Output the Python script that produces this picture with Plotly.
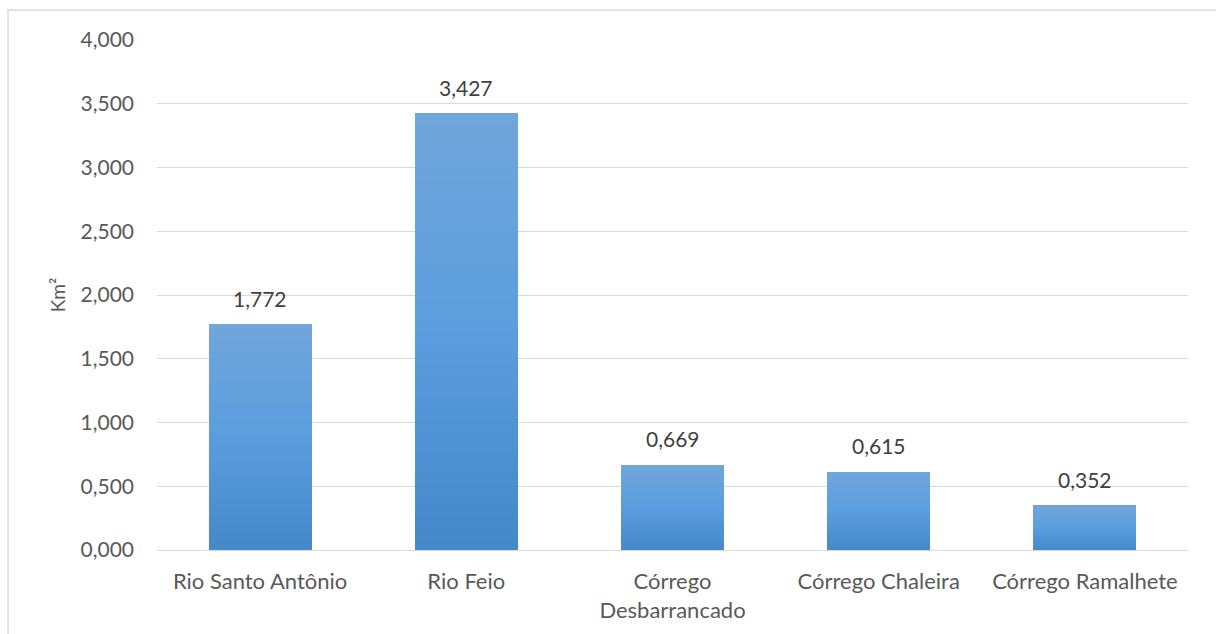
import plotly.graph_objects as go

# Área das sub-bacias (km²)
categorias = ["Rio Santo Antônio", "Rio Feio", "Córrego<br>Desbarrancado",
              "Córrego Chaleira", "Córrego Ramalhete"]
areas = [1.772, 3.427, 0.669, 0.615, 0.352]
ticks_y = [0, 0.5, 1.0, 1.5, 2.0, 2.5, 3.0, 3.5, 4.0]

# Degradê vertical das barras: escuro na base, claro no topo
N_FAIXAS = 40
cor_base = (0x44, 0x88, 0xC9)
cor_meio = (0x5B, 0x9D, 0xDD)
cor_topo = (0x71, 0xA6, 0xDB)

FONTE = "Lato, 'Open Sans', sans-serif"


def mistura(a, b, t):
    return tuple(round(a[i] + (b[i] - a[i]) * t) for i in range(3))


def cor_faixa(k):
    t = (k + 0.5) / N_FAIXAS
    if t < 0.5:
        c = mistura(cor_base, cor_meio, t / 0.5)
    else:
        c = mistura(cor_meio, cor_topo, (t - 0.5) / 0.5)
    return "rgb(%d,%d,%d)" % c


fig = go.Figure()
for k in range(N_FAIXAS):
    fig.add_trace(go.Bar(
        x=categorias,
        y=[v / N_FAIXAS for v in areas],
        marker=dict(color=cor_faixa(k), line=dict(width=0)),
        width=0.5,
        showlegend=False,
        hoverinfo="skip",
    ))

# Rótulos de valor acima das barras
rotulos = [
    dict(x=c, y=v, text=f"{v:.3f}".replace(".", ","), showarrow=False,
         yshift=26, font=dict(family=FONTE, size=21, color="#404040"))
    for c, v in zip(categorias, areas)
]

fig.update_layout(
    barmode="stack",
    bargap=0.5,
    width=1216,
    height=634,
    margin=dict(l=157, r=28, t=40, b=84),
    paper_bgcolor="white",
    plot_bgcolor="white",
    separators=",.",
    font=dict(family=FONTE, size=21, color="#595959"),
    annotations=rotulos,
    xaxis=dict(
        showgrid=False,
        showline=True,
        linecolor="#D9D9D9",
        linewidth=1,
        ticks="",
        ticklabelstandoff=12,
        tickfont=dict(size=22, color="#595959"),
    ),
    yaxis=dict(
        range=[0, 4.0],
        tickvals=ticks_y,
        tickformat=".3f",
        showgrid=True,
        gridcolor="#D9D9D9",
        gridwidth=1,
        zeroline=False,
        showline=False,
        ticks="",
        ticklabelstandoff=22,
        tickfont=dict(size=21, color="#595959"),
        title=dict(text="Km²", font=dict(size=19, color="#595959"), standoff=9),
    ),
    shapes=[dict(
        type="rect", xref="paper", yref="paper",
        x0=-0.1445, x1=1.1, y0=-0.3, y1=1.0588,
        line=dict(color="#D9D9D9", width=1.5),
        fillcolor="rgba(0,0,0,0)",
        layer="below",
    )],
)

fig.write_html("out.html")
